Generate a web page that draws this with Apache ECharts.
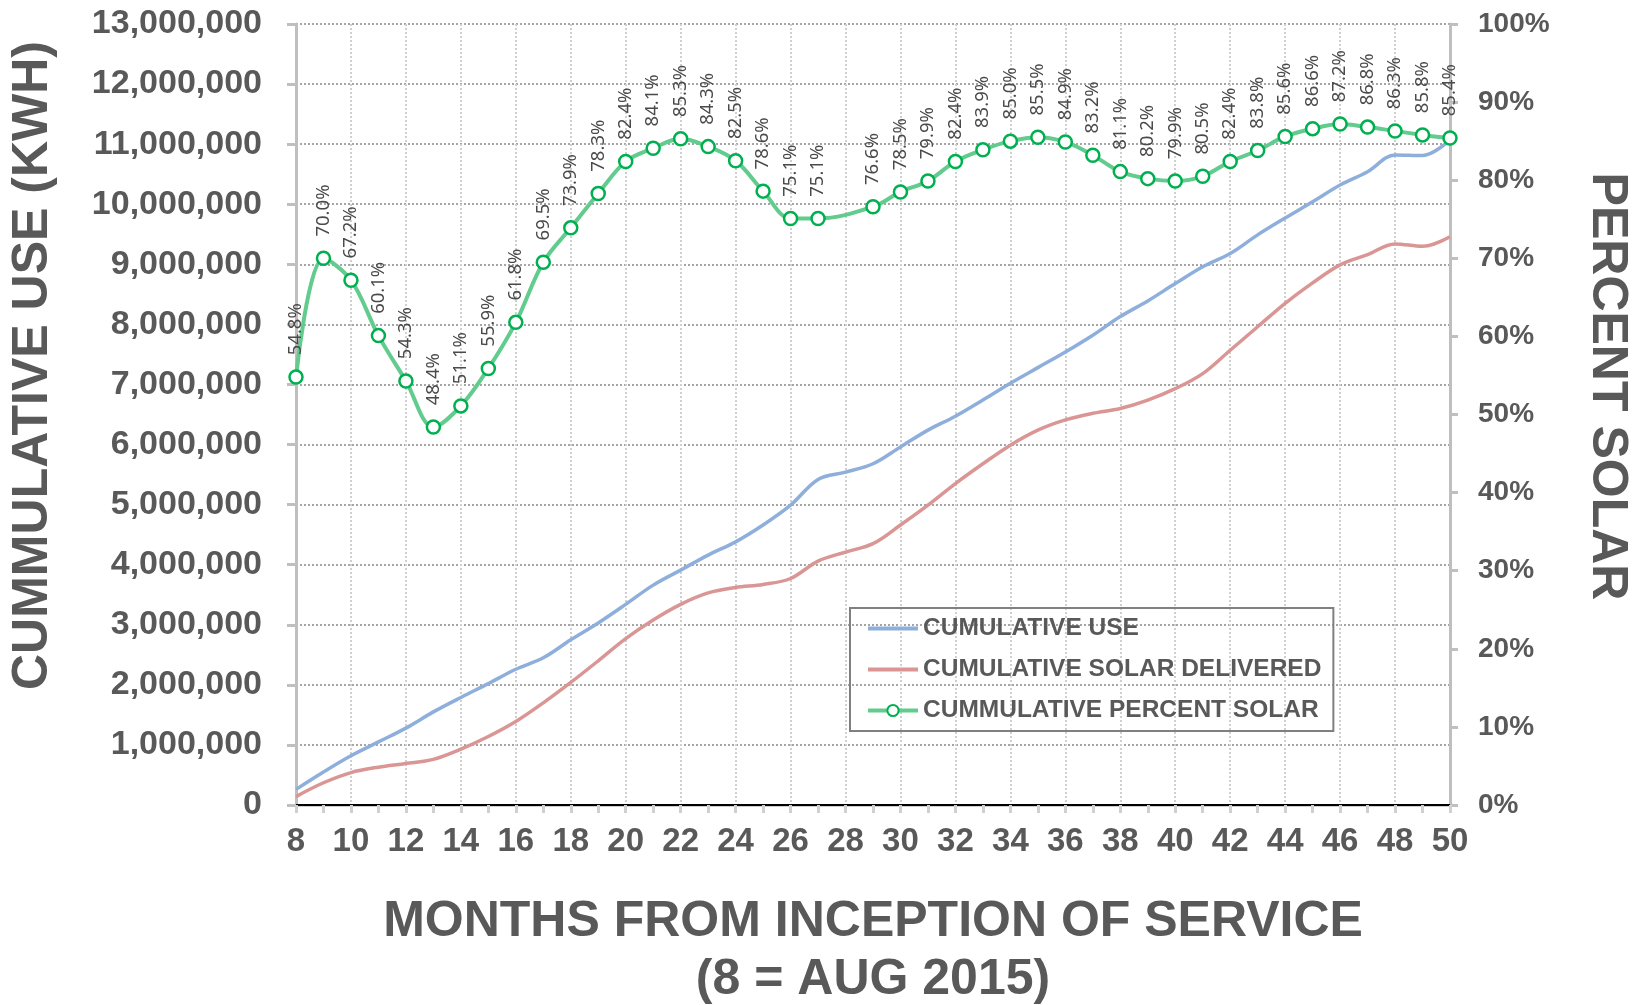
<!DOCTYPE html>
<html>
<head>
<meta charset="utf-8">
<title>Cumulative use and solar</title>
<script src="https://cdn.jsdelivr.net/npm/echarts@6/dist/echarts.min.js"></script>
<style>
  html, body { margin: 0; padding: 0; background: #fff; }
  #chart { width: 1636px; height: 1005px; }
</style>
</head>
<body>
<div id="chart"></div>
<script>
  // months from inception of service (8 = Aug 2015)
  const months = [8, 9, 10, 11, 12, 13, 14, 15, 16, 17, 18, 19, 20, 21, 22, 23, 24, 25, 26, 27, 28, 29,
    30, 31, 32, 33, 34, 35, 36, 37, 38, 39, 40, 41, 42, 43, 44, 45, 46, 47, 48, 49, 50];

  // kWh
  const cumulativeUse = [260000, 550000, 820000, 1050000, 1280000, 1550000, 1790000, 2020000, 2260000,
    2450000, 2750000, 3030000, 3340000, 3660000, 3910000, 4160000, 4380000, 4660000, 4990000, 5420000,
    5540000, 5680000, 5960000, 6240000, 6470000, 6740000, 7020000, 7280000, 7540000, 7820000, 8130000,
    8390000, 8680000, 8960000, 9180000, 9490000, 9770000, 10040000, 10320000, 10540000, 10820000,
    10810000, 11070000];

  const cumulativeSolar = [140000, 370000, 540000, 630000, 690000, 760000, 930000, 1140000, 1390000,
    1700000, 2040000, 2400000, 2770000, 3080000, 3340000, 3530000, 3620000, 3670000, 3770000, 4060000,
    4210000, 4350000, 4660000, 4990000, 5350000, 5680000, 5990000, 6240000, 6410000, 6520000, 6600000,
    6740000, 6930000, 7180000, 7570000, 7960000, 8350000, 8690000, 8990000, 9160000, 9340000, 9300000,
    9460000];

  // percent, month 28 has no point
  const percentSolar = [54.8, 70.0, 67.2, 60.1, 54.3, 48.4, 51.1, 55.9, 61.8, 69.5, 73.9, 78.3, 82.4,
    84.1, 85.3, 84.3, 82.5, 78.6, 75.1, 75.1, null, 76.6, 78.5, 79.9, 82.4, 83.9, 85.0, 85.5, 84.9, 83.2,
    81.1, 80.2, 79.9, 80.5, 82.4, 83.8, 85.6, 86.6, 87.2, 86.8, 86.3, 85.8, 85.4];

  const seriesNames = ['CUMULATIVE USE', 'CUMULATIVE SOLAR DELIVERED', 'CUMMULATIVE PERCENT SOLAR'];

  const pairs = (vals) => months.map((m, i) => [m, vals[i]]).filter((p) => p[1] != null);

  const gray = '#595959';
  const axisFont = { fontFamily: 'Liberation Sans, Arial', fontWeight: 'bold', color: gray };

  const myChart = echarts.init(document.getElementById('chart'));
  const option = {
    animation: false,
    grid: { left: 296, right: 186, top: 24, bottom: 200, outerBoundsMode: 'none' },
    legend: {
      // no dot on the two plain lines
      data: [
        { name: seriesNames[0], itemStyle: { opacity: 0 }, lineStyle: { width: 4 } },
        { name: seriesNames[1], itemStyle: { opacity: 0 }, lineStyle: { width: 4 } },
        { name: seriesNames[2], lineStyle: { width: 4 } },
      ],
      orient: 'vertical',
      left: 850,
      top: 608,
      padding: [8, 12, 8, 16],
      itemGap: 16,
      itemWidth: 50,
      itemHeight: 14,
      borderColor: '#808080',
      borderWidth: 2,
      textStyle: {
        fontFamily: 'Liberation Sans, Arial',
        fontWeight: 'bold',
        fontSize: 24.5,
        lineHeight: 24,
        color: gray,
      },
    },
    xAxis: [
      {
        type: 'value',
        min: 8,
        max: 50,
        interval: 2,
        name: 'MONTHS FROM INCEPTION OF SERVICE\n(8 = AUG 2015)',
        nameLocation: 'middle',
        nameGap: 88,
        nameTextStyle: { ...axisFont, fontSize: 50, lineHeight: 58 },
        axisLine: { lineStyle: { color: '#d0d0d0', width: 3 } },
        axisTick: { length: 8, lineStyle: { color: '#d0d0d0', width: 3 } },
        minorTick: { show: true, splitNumber: 2, length: 8, lineStyle: { color: '#d0d0d0', width: 3 } },
        axisLabel: { ...axisFont, fontSize: 33, margin: 20 },
        splitLine: { show: true, lineStyle: { type: 'dotted', color: '#cfcfcf', width: 2 } },
      },
      {
        // plain border along the top of the plot
        type: 'value',
        position: 'top',
        min: 8,
        max: 50,
        axisLine: { show: true, lineStyle: { color: '#000', width: 2 } },
        axisTick: { show: false },
        axisLabel: { show: false },
        splitLine: { show: false },
      },
    ],
    yAxis: [
      {
        type: 'value',
        min: 0,
        max: 13000000,
        interval: 1000000,
        name: 'CUMMULATIVE USE (KWH)',
        nameLocation: 'middle',
        nameGap: 238,
        nameTextStyle: { ...axisFont, fontSize: 50, padding: [0, 0, 0, 98] },
        axisLine: { show: true, lineStyle: { color: '#bfbfbf', width: 3 } },
        axisTick: { show: true, length: 9, lineStyle: { color: '#bfbfbf', width: 3 } },
        axisLabel: {
          ...axisFont,
          fontSize: 34,
          margin: 34,
          formatter: (v) => v.toLocaleString('en-US'),
        },
        splitLine: { lineStyle: { type: 'dotted', color: '#a6a6a6', width: 2 } },
      },
      {
        type: 'value',
        min: 0,
        max: 100,
        interval: 10,
        position: 'right',
        name: 'PERCENT SOLAR',
        nameLocation: 'middle',
        nameRotate: -90,
        nameGap: 132,
        nameTextStyle: { ...axisFont, fontSize: 50, padding: [0, 56, 0, 0] },
        axisLine: { show: true, lineStyle: { color: '#bfbfbf', width: 3 } },
        axisTick: { show: true, length: 8, lineStyle: { color: '#bfbfbf', width: 3 } },
        axisLabel: { ...axisFont, fontSize: 28, margin: 28, formatter: '{value}%' },
        splitLine: { show: false },
      },
    ],
    series: [
      {
        name: seriesNames[0],
        type: 'line',
        data: pairs(cumulativeUse),
        smooth: 0.35,
        symbol: 'none',
        lineStyle: { color: '#8eafdc', width: 3.5 },
        itemStyle: { color: '#8eafdc' },
      },
      {
        name: seriesNames[1],
        type: 'line',
        data: pairs(cumulativeSolar),
        smooth: 0.35,
        symbol: 'none',
        lineStyle: { color: '#d99694', width: 3.5 },
        itemStyle: { color: '#d99694' },
      },
      {
        name: seriesNames[2],
        type: 'line',
        yAxisIndex: 1,
        data: pairs(percentSolar),
        smooth: 0.35,
        symbol: 'circle',
        symbolSize: 13,
        lineStyle: { color: '#62cb8e', width: 4 },
        itemStyle: { color: '#fff', borderColor: '#00b050', borderWidth: 2.5 },
        label: {
          show: true,
          position: 'top',
          distance: 14,
          rotate: 90,
          align: 'left',
          verticalAlign: 'middle',
          fontFamily: 'Noto Sans',
          fontSize: 18.5,
          color: '#4a4a4a',
          formatter: (p) => p.value[1].toFixed(1) + '%',
        },
        z: 3,
      },
    ],
  };
  myChart.setOption(option);
</script>
</body>
</html>
